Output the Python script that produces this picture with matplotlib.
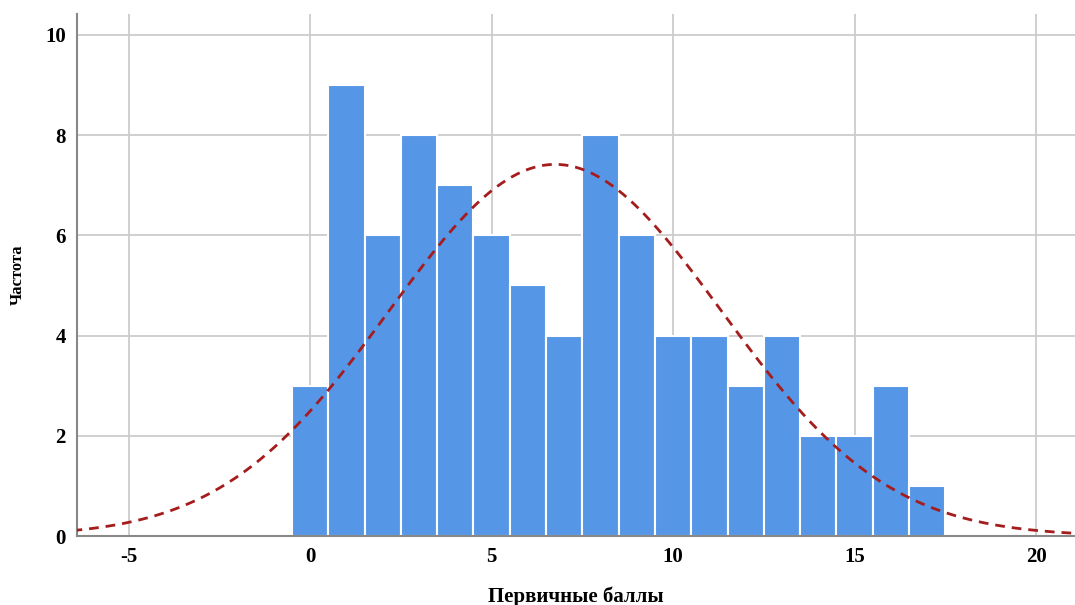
import matplotlib.pyplot as plt
import numpy as np

# primary scores (bin centres) and their frequencies
scores = [0, 1, 2, 3, 4, 5, 6, 7, 8, 9, 10, 11, 12, 13, 14, 15, 16, 17]
freq = [3, 9, 6, 8, 7, 6, 5, 4, 8, 6, 4, 4, 3, 4, 2, 2, 3, 1]

x_ticks = [-5, 0, 5, 10, 15, 20]
y_ticks = [0, 2, 4, 6, 8, 10]

plt.rcParams['font.family'] = ['Liberation Serif', 'DejaVu Serif']
plt.rcParams['axes.unicode_minus'] = False

fig = plt.figure(figsize=(10.75, 6.05), dpi=100)
ax = fig.add_axes([0.0716, 0.114, 0.9284, 0.863])

ax.bar(scores, freq, width=1.0, color='#5596e6', edgecolor='white', linewidth=1.5, zorder=2)

# fitted normal curve from the data
s = np.array(scores, dtype=float)
f = np.array(freq, dtype=float)
n = f.sum()
mu = (s * f).sum() / n
sd = np.sqrt(((s - mu) ** 2 * f).sum() / (n - 1))
xx = np.linspace(-7, 22, 400)
yy = n / (sd * np.sqrt(2 * np.pi)) * np.exp(-0.5 * ((xx - mu) / sd) ** 2)
ax.plot(xx, yy, color='#a51c1c', linestyle=(0, (3.5, 2.5)), linewidth=2, zorder=3)

ax.set_xlim(-6.42, 21.07)
ax.set_ylim(0, 10.42)
ax.set_xticks(x_ticks)
ax.set_yticks(y_ticks)
ax.grid(True, color='#cccccc', linewidth=1.3, zorder=0)
ax.set_axisbelow(True)
ax.tick_params(length=0, labelsize=15, pad=8)
for lab in ax.get_xticklabels() + ax.get_yticklabels():
    lab.set_fontweight('bold')
for sp in ['top', 'right']:
    ax.spines[sp].set_visible(False)
for sp in ['left', 'bottom']:
    ax.spines[sp].set_color('#888888')
    ax.spines[sp].set_linewidth(1.5)

ax.set_xlabel('Первичные баллы', fontsize=15, fontweight='bold', labelpad=14)
ax.set_ylabel('Частота', fontsize=12, fontweight='bold', labelpad=14)

fig.savefig('out.png', dpi=100)
